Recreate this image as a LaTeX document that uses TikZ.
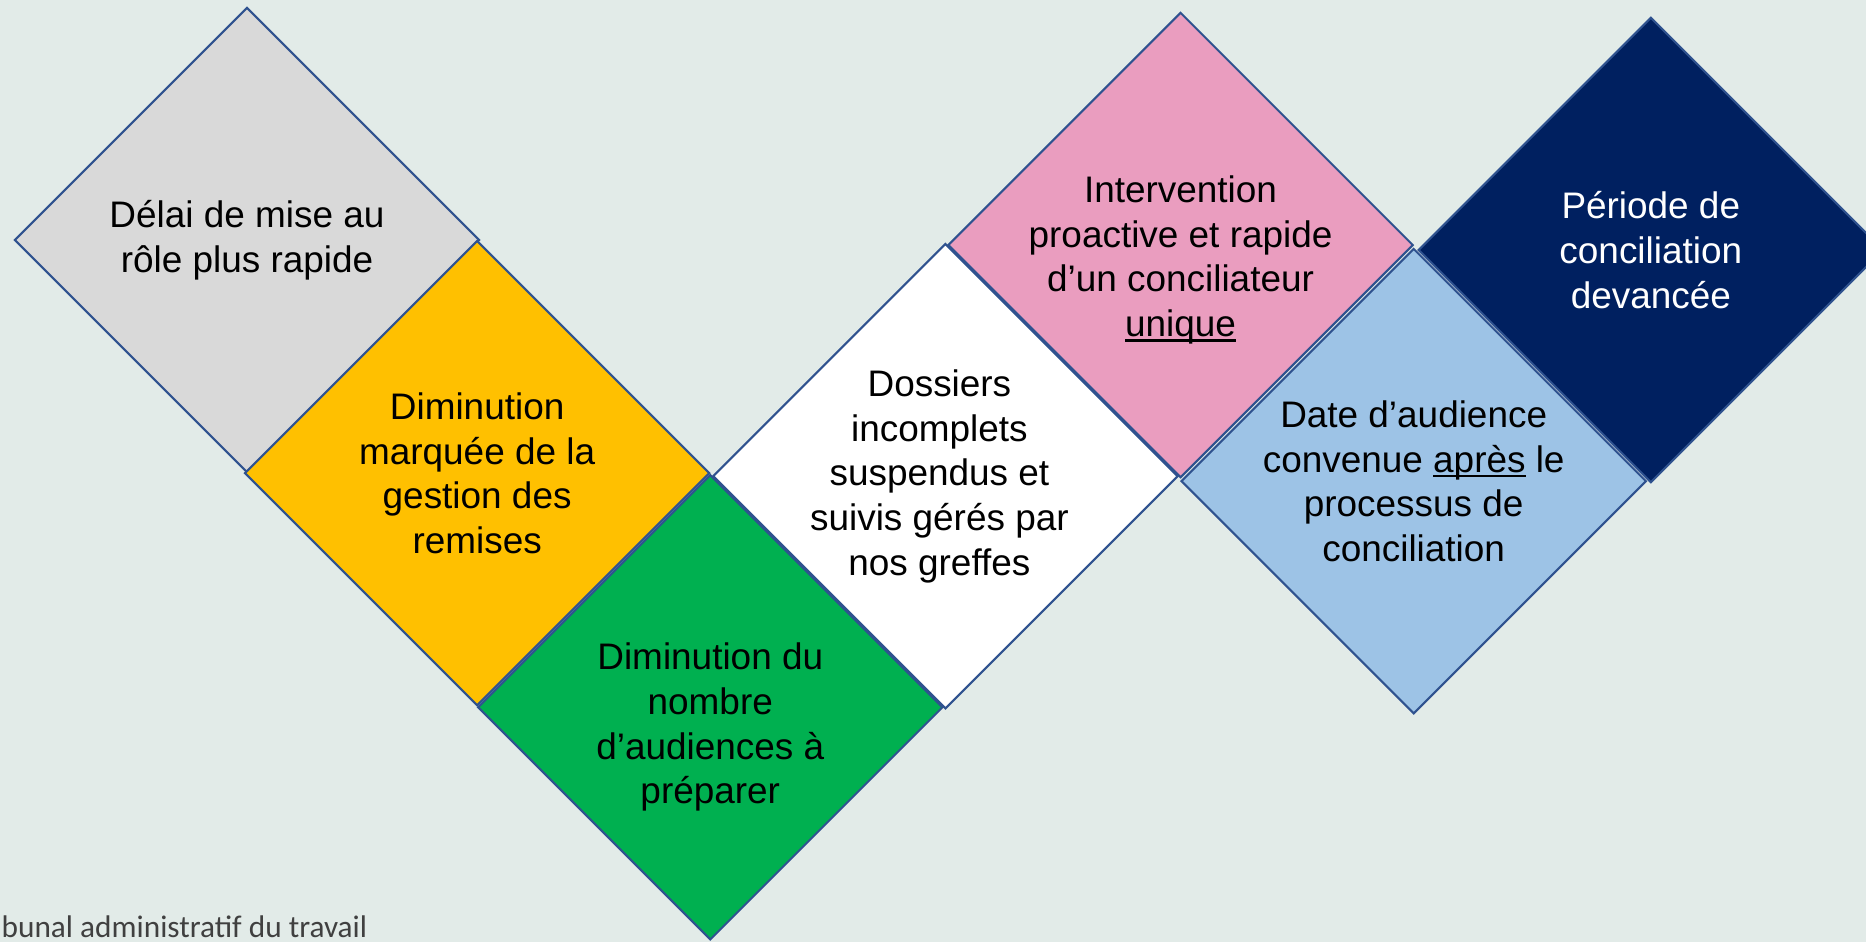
\documentclass[tikz,border=0pt]{standalone}
\usepackage{fontspec}
\setmainfont{Liberation Sans}
\newfontfamily\footfont{Carlito}
\usetikzlibrary{positioning,shapes.geometric}
\definecolor{bgc}{HTML}{E2EBE8}
\definecolor{edgec}{HTML}{2F528F}
\definecolor{grayc}{HTML}{D9D9D9}
\definecolor{yelc}{HTML}{FFC000}
\definecolor{grnc}{HTML}{00B050}
\definecolor{pinkc}{HTML}{EA9DBF}
\definecolor{bluec}{HTML}{9DC3E6}
\definecolor{navyc}{HTML}{002060}
\definecolor{footc}{HTML}{404040}
\newcommand{\ulword}[1]{\setbox0\hbox{#1}\rlap{\rule[-0.14em]{\wd0}{0.07em}}\box0\relax}

\begin{document}
\begin{tikzpicture}[x=0.01cm, y=-0.01cm, on grid, tile/.style={diamond, aspect=1, draw=edgec, line width=0.6pt, inner sep=0pt, minimum width=4.65cm, minimum height=4.65cm}, txt/.style={align=center, inner sep=0pt, font=\fontsize{10.5pt}{12.7pt}\selectfont}, foot/.style={inner sep=0pt, text=footc, font=\footfont\fontsize{8.9pt}{10pt}\selectfont}]

    \clip (0,0) rectangle (1866,942);
    \fill[bgc] (0,0) rectangle (1866,942);

    \node[tile, fill=grayc] (delai) at (247,240) {};
    \node[tile, fill=yelc, below right=2.33cm and 2.30cm of delai] (remises) {};
    \node[tile, fill=grnc, below right=2.34cm and 2.33cm of remises] (audiences) {};
    \node[tile, fill=white, above right=2.31cm and 2.35cm of audiences] (dossiers) {};
    \node[tile, fill=pinkc, above right=2.31cm and 2.35cm of dossiers] (intervention) {};
    \node[tile, fill=bluec, below right=2.36cm and 2.33cm of intervention] (date) {};
    \node[tile, fill=navyc, above right=2.31cm and 2.37cm of date] (periode) {};

    \node[txt] (t-delai) at (delai) {Délai de mise au\\rôle plus rapide};
    \node[txt] (t-remises) at (remises) {Diminution\\marquée de la\\gestion des\\remises};
    \node[txt] (t-audiences) at ([yshift=-2mm]audiences.center) {Diminution du\\nombre\\d’audiences à\\préparer};
    \node[txt] (t-dossiers) at ([xshift=-0.6mm]dossiers.center) {Dossiers\\incomplets\\suspendus et\\suivis gérés par\\nos greffes};
    \node[txt] (t-intervention) at ([yshift=-1.5mm]intervention.center) {Intervention\\proactive et rapide\\d’un conciliateur\\\ulword{unique}};
    \node[txt] (t-date) at (date) {Date d’audience\\convenue \ulword{après} le\\processus de\\conciliation};
    \node[txt, text=white] (t-periode) at (periode) {Période de\\conciliation\\devancée};

    \node[foot, anchor=base west] (tribunal) at (1,937) {bunal administratif du travail};

  \end{tikzpicture}
\end{document}
